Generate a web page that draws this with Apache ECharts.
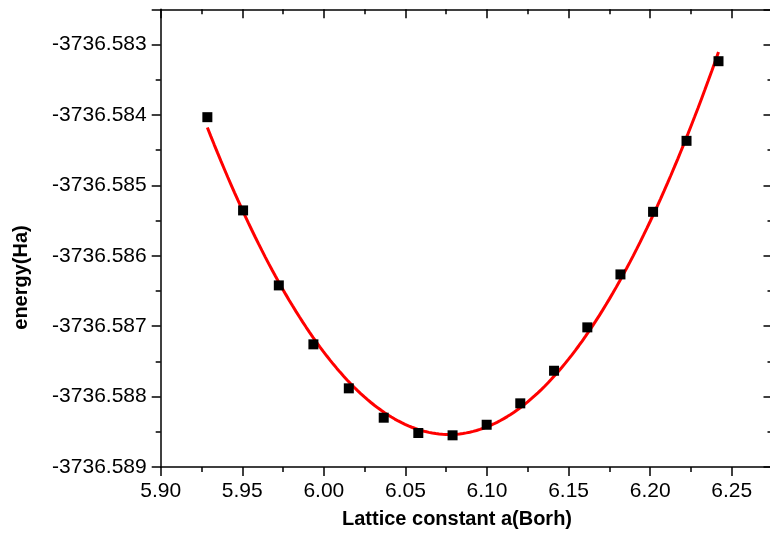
<!DOCTYPE html>
<html><head><meta charset="utf-8">
<script src="https://cdn.jsdelivr.net/npm/echarts@6/dist/echarts.min.js"></script>
<style>html,body{margin:0;padding:0;background:#fff}#c{width:770px;height:536px}</style>
</head><body><div id="c"></div>
<script>
// Data
var latticeA = [5.9286, 5.9505, 5.9724, 5.9936, 6.0153, 6.0367, 6.0579, 6.0789, 6.0998, 6.1204, 6.1411, 6.1615, 6.1818, 6.2018, 6.2223, 6.2419];
var energy = [-3736.584032, -3736.585356, -3736.586421, -3736.587258, -3736.587883, -3736.588300, -3736.588517, -3736.588550, -3736.588400, -3736.588096, -3736.587633, -3736.587017, -3736.586265, -3736.585376, -3736.584368, -3736.583237];
var xTickLabels = ['5.90', '5.95', '6.00', '6.05', '6.10', '6.15', '6.20', '6.25'];
var yTickLabels = ['-3736.589', '-3736.588', '-3736.587', '-3736.586', '-3736.585', '-3736.584', '-3736.583'];
var xTitle = 'Lattice constant a(Borh)';
var yTitle = 'energy(Ha)';

// Polynomial least-squares fit of the data (the original's fitted curve)
function polyFit(xs, ys, deg, x0, y0, ys_scale) {
  var n = deg + 1, A = [], b = [];
  for (var i = 0; i < n; i++) { A.push(new Array(n).fill(0)); b.push(0); }
  for (var k = 0; k < xs.length; k++) {
    var x = xs[k] - x0, y = (ys[k] - y0) * ys_scale;
    for (var i = 0; i < n; i++) {
      for (var j = 0; j < n; j++) A[i][j] += Math.pow(x, i + j);
      b[i] += y * Math.pow(x, i);
    }
  }
  for (var i = 0; i < n; i++) {
    var p = i;
    for (var r = i + 1; r < n; r++) if (Math.abs(A[r][i]) > Math.abs(A[p][i])) p = r;
    var t = A[i]; A[i] = A[p]; A[p] = t; var tb = b[i]; b[i] = b[p]; b[p] = tb;
    for (var r = i + 1; r < n; r++) {
      var f = A[r][i] / A[i][i];
      for (var c = i; c < n; c++) A[r][c] -= f * A[i][c];
      b[r] -= f * b[i];
    }
  }
  var coef = new Array(n).fill(0);
  for (var i = n - 1; i >= 0; i--) {
    var s = b[i];
    for (var c = i + 1; c < n; c++) s -= A[i][c] * coef[c];
    coef[i] = s / A[i][i];
  }
  return function (xv) {
    var x = xv - x0, s = 0;
    for (var i = 0; i < n; i++) s += coef[i] * Math.pow(x, i);
    return s / ys_scale + y0;
  };
}
var fitFn = polyFit(latticeA, energy, 2, 6.08, -3736.586, 1000);
var fitLine = [];
var xa = latticeA[0], xb = latticeA[latticeA.length - 1];
for (var i = 0; i <= 150; i++) { var xv = xa + (xb - xa) * i / 150; fitLine.push([xv, fitFn(xv)]); }

var points = latticeA.map(function (x, i) { return [x, energy[i]]; });

var FONT = 'Liberation Sans, Arial, sans-serif';
function xFmt(v) { var s = v.toFixed(2); return xTickLabels.indexOf(s) >= 0 && Math.abs(v * 20 - Math.round(v * 20)) < 1e-6 ? s : ''; }
function yFmt(v) { var s = v.toFixed(3); return yTickLabels.indexOf(s) >= 0 && Math.abs(v * 1000 - Math.round(v * 1000)) < 1e-3 ? s : ''; }

var lineStyle = { color: '#000', width: 1.5 };
var xBase = { type: 'value', min: 5.90, max: 6.275, splitLine: { show: false }, gridIndex: 0 };
var yBase = { type: 'value', min: -3736.589, max: -3736.5825, scale: true, splitLine: { show: false }, gridIndex: 0 };
function ext(a, b) { var o = {}; for (var k in a) o[k] = a[k]; for (var k in b) o[k] = b[k]; return o; }

var chart = echarts.init(document.getElementById('c'), null, { renderer: 'canvas' });
chart.setOption({
  animation: false,
  backgroundColor: '#fff',
  grid: { left: 160.7, top: 9.3, width: 611.8, height: 457.7, containLabel: false, outerBoundsMode: 'none' },
  xAxis: [
    ext(xBase, { position: 'bottom', interval: 0.05, axisLine: { show: true, lineStyle: lineStyle }, axisTick: { show: true, inside: false, length: 9, lineStyle: lineStyle },
      axisLabel: { show: true, formatter: xFmt, margin: 14, fontSize: 21, color: '#000', fontFamily: FONT, showMaxLabel: true } }),
    ext(xBase, { position: 'bottom', interval: 0.025, axisLine: { show: false }, axisTick: { show: true, inside: false, length: 5, lineStyle: lineStyle }, axisLabel: { show: false } }),
    ext(xBase, { position: 'top', interval: 0.05, axisLine: { show: true, lineStyle: lineStyle }, axisTick: { show: true, inside: true, length: 9, lineStyle: lineStyle }, axisLabel: { show: false } }),
    ext(xBase, { position: 'top', interval: 0.025, axisLine: { show: false }, axisTick: { show: true, inside: true, length: 5, lineStyle: lineStyle }, axisLabel: { show: false } })
  ],
  yAxis: [
    ext(yBase, { position: 'left', interval: 0.001, axisLine: { show: true, lineStyle: lineStyle }, axisTick: { show: true, inside: false, length: 9, lineStyle: lineStyle },
      axisLabel: { show: true, formatter: yFmt, margin: 14, fontSize: 21, color: '#000', fontFamily: FONT } }),
    ext(yBase, { position: 'left', interval: 0.0005, axisLine: { show: false }, axisTick: { show: true, inside: false, length: 5, lineStyle: lineStyle }, axisLabel: { show: false } }),
    ext(yBase, { position: 'right', interval: 0.001, axisLine: { show: true, lineStyle: lineStyle }, axisTick: { show: true, inside: true, length: 9, lineStyle: lineStyle }, axisLabel: { show: false } }),
    ext(yBase, { position: 'right', interval: 0.0005, axisLine: { show: false }, axisTick: { show: true, inside: true, length: 5, lineStyle: lineStyle }, axisLabel: { show: false } })
  ],
  series: [
    { type: 'line', data: fitLine, xAxisIndex: 0, yAxisIndex: 0, showSymbol: false, symbol: 'none', smooth: false, lineStyle: { color: '#ff0000', width: 3 }, z: 2 },
    { type: 'scatter', data: points, xAxisIndex: 0, yAxisIndex: 0, symbol: 'rect', symbolSize: 10, itemStyle: { color: '#000', opacity: 1 }, z: 3 }
  ],
  graphic: [
    { type: 'text', x: 457, y: 519, style: { text: xTitle, font: 'bold 20px ' + FONT, fill: '#000', align: 'center', verticalAlign: 'middle' } },
    { type: 'text', x: 21, y: 277.5, rotation: Math.PI / 2, style: { text: yTitle, font: 'bold 20px ' + FONT, fill: '#000', align: 'center', verticalAlign: 'middle' } }
  ]
});
</script>
</body></html>
